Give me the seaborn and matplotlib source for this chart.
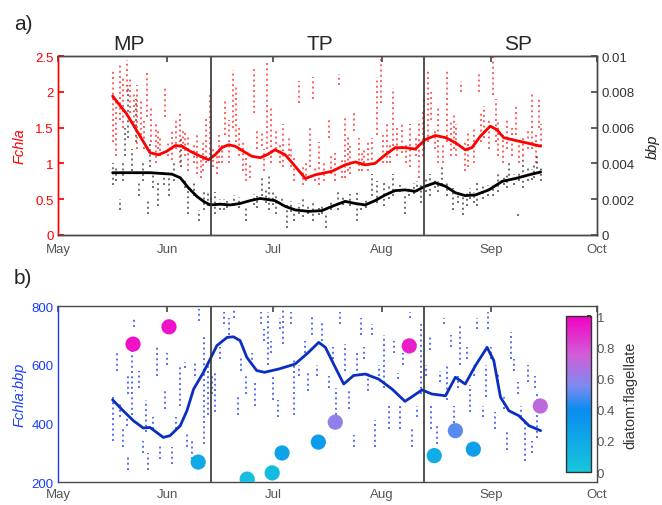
import numpy as np
import matplotlib
matplotlib.use("Agg")
import matplotlib.pyplot as plt
import seaborn as sns
from matplotlib.colors import LinearSegmentedColormap, Normalize
from matplotlib.cm import ScalarMappable

# ---------------- data (day = days since 1 May) ----------------
month_days = [0, 31, 61, 92, 123, 153]
month_labels = ["May", "Jun", "Jul", "Aug", "Sep", "Oct"]
period_bounds = [43.5, 104.0]
period_labels = ["MP", "TP", "SP"]

# Fchla profile strips (day, low, high)
fchla_day = [15.5, 16.5, 17.6, 18.5, 19.5, 20.5, 22.4, 23.5, 25.2, 26.5, 27.8, 29.0, 30.4, 32.3, 33.5,
             34.7, 36.0, 37.0, 38.5, 39.4, 40.5, 42.0, 43.2, 44.0, 45.1, 46.5, 47.4, 48.5, 49.8, 50.5,
             51.5, 53.4, 54.5, 55.5, 56.5, 57.9, 59.3, 62.0, 64.0, 65.5, 67.0, 68.3, 69.5, 71.5, 72.5,
             74.0, 75.5, 76.8, 78.5, 79.8, 81.5, 83.0, 84.0, 85.5, 87.0, 89.0, 90.5, 91.7, 93.5, 95.0,
             97.6, 100.0, 103.5, 105.0, 106.0, 108.0, 110.5, 111.5, 113.0, 114.5, 116.5, 119.5, 121.0,
             123.5, 125.0, 127.5, 130.0, 132.0, 134.5, 137.0,
             21.5, 24.3, 28.5, 31.2, 35.5, 41.2, 45.8, 52.5, 58.5, 60.5, 63.0, 66.2, 70.5, 73.0, 77.5,
             80.5, 82.3, 86.2, 88.0, 92.3, 94.2, 96.3, 98.8, 101.5, 102.5, 104.0, 107.0, 109.3, 112.3,
             115.5, 118.0, 120.2, 122.3, 124.2, 126.3, 128.8, 131.0, 133.3, 135.8, 136.5]
fchla_lo = [1.30, 1.10, 1.60, 1.50, 2.00, 1.70, 1.20, 1.40, 1.65, 1.30, 1.00, 1.10, 1.65, 1.05, 1.20,
            1.00, 1.10, 0.90, 1.00, 0.85, 0.80, 1.00, 1.05, 0.95, 0.85, 1.00, 1.40, 1.00, 1.50, 1.30,
            1.10, 0.75, 0.80, 1.70, 1.20, 1.25, 1.20, 1.20, 0.95, 1.10, 0.75, 1.85, 0.70, 0.95, 1.90,
            0.70, 0.75, 1.35, 0.75, 2.10, 0.80, 0.85, 1.45, 0.90, 1.00, 0.98, 1.40, 1.85, 1.00, 1.25,
            1.15, 0.95, 1.10, 1.30, 1.60, 1.00, 1.30, 1.10, 1.10, 2.00, 0.95, 2.00, 1.35,
            1.95, 1.10, 1.20, 1.40, 1.10, 1.20, 1.25,
            1.50, 1.20, 1.20, 1.10, 1.20, 0.90, 1.00, 0.90, 0.90, 1.00, 1.00, 0.95, 0.75, 0.75, 0.85,
            0.80, 0.90, 0.90, 0.90, 1.00, 1.00, 1.10, 1.00, 1.10, 0.80, 1.20, 1.20, 1.00, 1.20,
            0.90, 1.00, 1.30, 1.20, 1.30, 1.00, 1.10, 1.00, 1.20, 1.00, 1.50]
fchla_hi = [2.30, 1.90, 2.40, 2.20, 2.45, 2.20, 2.10, 1.90, 2.30, 1.80, 1.55, 1.40, 2.05, 1.45, 1.60,
            1.70, 1.45, 1.40, 1.30, 1.40, 1.10, 1.65, 1.95, 1.20, 1.15, 1.30, 1.90, 1.60, 2.30, 2.10,
            1.50, 1.10, 1.00, 2.35, 1.50, 1.45, 2.40, 1.45, 1.55, 1.40, 1.10, 2.15, 0.98, 1.50, 2.20,
            1.30, 1.05, 1.60, 1.15, 2.25, 1.65, 1.25, 1.70, 1.35, 1.20, 1.35, 2.20, 2.50, 1.55, 2.05,
            1.55, 1.55, 1.75, 2.30, 2.00, 1.80, 2.30, 1.60, 1.55, 2.15, 1.45, 2.25, 1.80,
            2.50, 1.60, 1.60, 1.80, 1.40, 2.00, 1.55,
            2.00, 1.60, 1.50, 1.30, 1.50, 1.30, 1.40, 1.30, 1.20, 1.80, 1.30, 1.25, 1.00, 0.95, 1.10,
            1.05, 1.40, 1.15, 1.30, 1.40, 1.30, 1.50, 1.30, 1.40, 1.60, 1.90, 1.50, 1.30, 1.70,
            1.30, 1.50, 1.70, 1.60, 1.90, 1.40, 1.50, 1.30, 1.50, 1.40, 1.90]

# bbp profile strips (day, low, high)
bbp_day = [15.5, 17.5, 20.0, 22.0, 23.0, 25.5, 26.0, 28.5, 31.5, 35.0, 37.0, 40.0, 41.5, 43.5, 44.5,
           47.0, 48.0, 50.0, 53.5, 55.5, 58.0, 60.0, 62.0, 63.5, 65.0, 67.0, 69.5, 71.0, 72.5, 74.0,
           76.0, 79.5, 81.0, 85.0, 87.5, 89.0, 92.5, 95.0, 97.0, 98.5, 101.0, 103.0, 105.5, 107.0,
           109.0, 112.0, 115.0, 117.0, 119.0, 122.0, 125.0, 126.5, 128.0, 130.5, 132.0, 134.5, 136.0,
           16.5, 18.5, 19.0, 21.0, 24.0, 27.0, 30.0, 33.0, 36.0, 38.5, 42.5, 46.0, 51.5, 56.5, 59.0,
           61.0, 66.0, 68.5, 75.0, 77.5, 83.0, 86.0, 90.5, 94.0, 99.5, 102.0, 104.5, 108.0, 110.5,
           113.5, 116.0, 118.0, 120.5, 123.5, 127.5, 129.5, 131.0, 133.5, 135.0, 137.0]
bbp_lo = [0.0028, 0.0014, 0.0054, 0.0052, 0.0022, 0.0012, 0.0038, 0.0016, 0.0022, 0.0038, 0.0012,
          0.0008, 0.0014, 0.0017, 0.0012, 0.0014, 0.0015, 0.0016, 0.0008, 0.0017, 0.0022, 0.0014,
          0.0012, 0.0016, 0.0004, 0.0008, 0.0010, 0.0012, 0.0008, 0.0011, 0.0004, 0.0014, 0.0017,
          0.0008, 0.0015, 0.0022, 0.0016, 0.0022, 0.0024, 0.0012, 0.0023, 0.0018, 0.0022, 0.0026,
          0.0028, 0.0014, 0.0011, 0.0020, 0.0016, 0.0022, 0.0024, 0.0028, 0.0030, 0.00104, 0.0026,
          0.0031, 0.0034,
          0.0030, 0.0030, 0.0044, 0.0036, 0.0030, 0.0026, 0.0028, 0.0030, 0.0026, 0.0022, 0.0016,
          0.0014, 0.0015, 0.0015, 0.0018, 0.0017, 0.0013, 0.0012, 0.0012, 0.0014, 0.0016, 0.0014,
          0.0018, 0.0020, 0.0022, 0.0024, 0.0024, 0.0024, 0.0022, 0.0018, 0.0016, 0.0018, 0.0020,
          0.0022, 0.0026, 0.0028, 0.0030, 0.0030, 0.0032, 0.0030]
bbp_hi = [0.0040, 0.0020, 0.0084, 0.0076, 0.0030, 0.0020, 0.0052, 0.0030, 0.0034, 0.0054, 0.0026,
          0.0014, 0.0024, 0.0022, 0.0024, 0.0020, 0.0019, 0.00224, 0.0016, 0.0023, 0.0032, 0.0034,
          0.0022, 0.0021, 0.0018, 0.0016, 0.0020, 0.0016, 0.0018, 0.0015, 0.0012, 0.0024, 0.0021,
          0.0024, 0.0020, 0.0034, 0.0030, 0.0034, 0.0028, 0.0022, 0.0029, 0.0028, 0.0034, 0.0032,
          0.0039, 0.0026, 0.0022, 0.0026, 0.0030, 0.0028, 0.0036, 0.0033, 0.0042, 0.0012, 0.0044,
          0.0037, 0.0046,
          0.0038, 0.0040, 0.0060, 0.0048, 0.0040, 0.0034, 0.0036, 0.0040, 0.0032, 0.0030, 0.0024,
          0.0020, 0.0021, 0.0022, 0.0026, 0.0025, 0.0019, 0.0018, 0.0016, 0.0019, 0.0023, 0.0018,
          0.0030, 0.0028, 0.0027, 0.0030, 0.0032, 0.0030, 0.0030, 0.0024, 0.0024, 0.0024, 0.0028,
          0.0028, 0.0034, 0.0034, 0.0036, 0.0038, 0.0040, 0.0038]

# smoothed Fchla
fchla_s_day = [15.5, 19.5, 23.3, 26.1, 28.5, 30.9, 33.3, 35.2, 37.5, 40.4, 42.7, 44.6, 46.5, 48.4,
               50.3, 52.6, 55.0, 57.4, 59.3, 61.6, 64.5, 67.3, 70.2, 73.0, 77.8, 81.5, 84.4, 87.2,
               90.0, 92.9, 95.7, 98.5, 101.4, 104.2, 107.1, 110.0, 112.8, 115.6, 117.5, 119.9, 122.7,
               124.6, 126.5, 129.9, 132.7, 137.0]
fchla_s = [1.94, 1.69, 1.38, 1.15, 1.12, 1.17, 1.25, 1.24, 1.17, 1.10, 1.05, 1.12, 1.22, 1.26,
           1.24, 1.17, 1.10, 1.08, 1.12, 1.19, 1.12, 0.96, 0.79, 0.84, 0.89, 0.98, 1.02, 0.98,
           1.00, 1.12, 1.22, 1.22, 1.20, 1.33, 1.39, 1.36, 1.29, 1.19, 1.22, 1.38, 1.52,
           1.47, 1.36, 1.32, 1.29, 1.24]

# smoothed bbp
bbp_s_day = [15.5, 21.4, 26.1, 32.3, 34.7, 37.0, 39.4, 41.3, 43.2, 46.1, 48.9, 51.7, 54.5, 57.4,
             61.6, 64.5, 67.3, 71.1, 74.9, 77.8, 81.5, 84.4, 87.2, 90.0, 92.9, 95.7, 98.5, 101.4,
             104.2, 107.1, 110.0, 112.8, 115.6, 118.5, 122.3, 126.1, 129.9, 133.7, 137.0]
bbp_s = [0.00348, 0.00348, 0.00348, 0.00340, 0.00320, 0.00264, 0.00216, 0.00188, 0.00168, 0.00172,
         0.00168, 0.00176, 0.00192, 0.00204, 0.00192, 0.00160, 0.00140, 0.00132, 0.00136, 0.00160,
         0.00188, 0.00176, 0.00168, 0.00192, 0.00224, 0.00248, 0.00252, 0.00244, 0.00272, 0.00292,
         0.00272, 0.00236, 0.00220, 0.00224, 0.00252, 0.00300, 0.00316, 0.00336, 0.00352]

# Fchla:bbp profile strips (day, low, high)
ratio_day = [15.5, 16.7, 18.5, 19.5, 19.8, 21.0, 21.5, 25.0, 25.5, 28.0, 30.5, 32.5, 34.5, 36.0, 36.5,
             40.0, 41.5, 42.5, 44.5, 47.0, 48.5, 51.0, 52.0, 56.0, 57.5, 59.5, 61.0, 62.5, 64.0, 67.0,
             71.0, 72.0, 75.0, 79.0, 80.0, 81.5, 82.5, 84.0, 86.0, 88.0, 90.0, 92.5, 94.0, 96.5, 97.0,
             100.0, 100.5, 103.0, 105.5, 106.0, 107.5, 109.5, 110.5, 112.5, 114.0, 117.0, 119.0, 121.5,
             122.0, 124.0, 125.0, 127.5, 128.5, 130.5, 132.5, 133.5, 136.0,
             17.5, 20.0, 23.0, 24.0, 27.0, 29.0, 31.0, 33.5, 38.0, 39.0, 43.8, 46.0, 50.0, 53.5, 55.0,
             58.5, 60.5, 63.0, 66.0, 68.5, 70.0, 73.5, 77.0, 78.0, 85.0, 87.0, 89.0, 91.0, 95.5, 98.0,
             102.0, 104.5, 108.5, 111.5, 113.5, 116.0, 118.0, 120.5, 123.0, 126.5, 129.5, 131.5, 134.5,
             135.5]
ratio_lo = [340, 580, 320, 390, 240, 430, 730, 370, 240, 560, 450, 260, 460, 590, 320,
            750, 330, 430, 440, 740, 700, 430, 580, 460, 740, 600, 480, 420, 670, 430,
            510, 700, 680, 430, 740, 580, 450, 320, 700, 510, 320, 520, 380, 550, 380,
            760, 320, 500, 650, 380, 330, 740, 480, 400, 600, 440, 720, 490,
            720, 380, 540, 310, 620, 500, 270, 540, 350,
            420, 500, 520, 300, 380, 280, 600, 380, 280, 560, 500, 620, 760, 500, 600,
            680, 640, 720, 740, 560, 640, 560, 520, 620, 560, 620, 700, 560, 640, 600,
            420, 560, 540, 660, 520, 620, 560, 420, 620, 450, 580, 420, 300,
            520]
ratio_hi = [500, 640, 380, 430, 290, 650, 760, 480, 300, 660, 510, 320, 600, 610, 370,
            790, 700, 600, 580, 780, 760, 500, 630, 540, 780, 780, 560, 480, 790, 620,
            570, 770, 750, 520, 780, 670, 520, 360, 760, 570, 410, 700, 460, 570, 470,
            780, 380, 740, 700, 470, 400, 760, 600, 460, 740, 530, 760, 600,
            780, 440, 570, 380, 710, 540, 400, 600, 500,
            470, 560, 580, 340, 420, 330, 640, 420, 340, 610, 560, 660, 790, 560, 640,
            720, 680, 760, 780, 600, 680, 600, 560, 660, 640, 660, 740, 600, 680, 640,
            460, 600, 580, 700, 560, 660, 600, 460, 660, 490, 620, 460, 340,
            560]

# smoothed Fchla:bbp
ratio_s_day = [15.5, 18.5, 21.4, 24.2, 26.1, 28.0, 29.9, 31.8, 34.7, 36.6, 38.5, 41.3, 43.2, 45.1,
               48.0, 49.8, 51.7, 53.6, 56.4, 58.6, 62.6, 67.3, 71.1, 74.0, 75.9, 78.7, 81.1, 83.9,
               87.2, 91.0, 94.8, 98.5, 100.9, 103.3, 106.1, 110.0, 112.8, 115.6, 118.5, 121.8, 123.7,
               125.6, 128.0, 130.8, 133.7, 137.0]
ratio_s = [480, 443, 409, 384, 386, 369, 352, 358, 392, 443, 517, 574, 619, 665,
           693, 695, 682, 625, 580, 574, 585, 602, 642, 676, 659, 591, 534, 563,
           568, 551, 517, 475, 494, 514, 500, 494, 557, 534, 597, 659, 614,
           489, 443, 426, 392, 375]

# community composition samples
comm_day = [21.3, 31.5, 39.8, 53.7, 60.8, 63.6, 73.9, 78.7, 99.7, 106.8, 112.8, 117.9, 136.9]
comm_val = [670, 729, 268, 210, 231, 299, 336, 404, 664, 290, 375, 312, 459]
comm_ratio = [0.95, 0.95, 0.20, 0.05, 0.08, 0.25, 0.30, 0.60, 0.92, 0.18, 0.50, 0.28, 0.70]

# ---------------- style ----------------
sns.set_theme(style="white")
plt.rcParams["font.family"] = ["Liberation Sans", "DejaVu Sans"]
plt.rcParams["axes.linewidth"] = 1.0

W, H = 662, 506
fig = plt.figure(figsize=(W / 100, H / 100), dpi=100)

def fx(px):
    return px / W

def fy(py):
    return 1 - py / H

RED = "#ff1a1a"
BLUE = "#1a3cff"
DBLUE = "#0a2fc0"
GRAY = "#4a4a4a"
cmap = LinearSegmentedColormap.from_list(
    "df", [(0.0, "#16c6dc"), (0.4, "#0a8cf0"), (0.55, "#7c8af0"), (0.75, "#d05ed8"), (1.0, "#f400c4")])

dots = dict(linestyles=(0, (1.0, 1.7)), linewidth=1.4)

# ---------------- panel a ----------------
ax1 = fig.add_axes([fx(58), fy(236), fx(597 - 58), (236 - 57) / H])
ax1.vlines(fchla_day, fchla_lo, fchla_hi, colors=RED, alpha=0.7, **dots)
ax1.set_xlim(0, 153)
ax1.set_ylim(0, 2.5)
ax2 = ax1.twinx()
ax2.vlines(bbp_day, bbp_lo, bbp_hi, colors="#202020", alpha=0.65, **dots)
sns.lineplot(x=bbp_s_day, y=bbp_s, ax=ax2, color="black", linewidth=2.0)
sns.lineplot(x=fchla_s_day, y=[v * 0.004 for v in fchla_s], ax=ax2, color="red", linewidth=2.0)
ax2.set_ylim(0, 0.01)
ax2.set_xlim(0, 153)

ax1.set_yticks([0, 0.5, 1, 1.5, 2, 2.5])
ax1.set_yticklabels(["0", "0.5", "1", "1.5", "2", "2.5"])
ax2.set_yticks([0, 0.002, 0.004, 0.006, 0.008, 0.01])
ax2.set_yticklabels(["0", "0.002", "0.004", "0.006", "0.008", "0.01"])
ax1.tick_params(axis="y", colors="red", direction="in", length=4, labelsize=9.5, pad=3)
ax2.tick_params(axis="y", colors=GRAY, labelcolor="#333333", direction="in", length=4, labelsize=9.5, pad=3)
ax1.set_ylabel("Fchla", color="red", style="italic", fontsize=10.5, labelpad=6)
ax2.set_ylabel("bbp", color="#222222", style="italic", fontsize=10.5, labelpad=8)

ax1.set_xticks(month_days)
ax1.set_xticklabels(month_labels)
ax1.tick_params(axis="x", direction="in", top=True, length=4, colors=GRAY,
                labelcolor="#555555", labelsize=9.5, pad=6)
for s in ["top", "right", "bottom"]:
    ax2.spines[s].set_color(GRAY)
ax2.spines["left"].set_color("red")
ax1.spines["left"].set_color("red")
for b in period_bounds:
    ax2.axvline(b, color="#333333", linewidth=1.2)

# ---------------- panel b ----------------
ax3 = fig.add_axes([fx(58), fy(483), fx(597 - 58), (483 - 307) / H])
ax3.vlines(ratio_day, ratio_lo, ratio_hi, colors=BLUE, alpha=0.75, **dots)
sns.lineplot(x=ratio_s_day, y=ratio_s, ax=ax3, color=DBLUE, linewidth=2.0)
sns.scatterplot(x=comm_day, y=comm_val, hue=comm_ratio, palette=cmap, hue_norm=(0, 1),
                s=120, edgecolor="none", legend=False, ax=ax3, zorder=5)
for b in period_bounds:
    ax3.axvline(b, color="#333333", linewidth=1.2)
ax3.set_xlim(0, 153)
ax3.set_ylim(200, 800)
ax3.set_yticks([200, 400, 600, 800])
ax3.set_yticklabels(["200", "400", "600", "800"])
ax3.set_xticks(month_days)
ax3.set_xticklabels(month_labels)
ax3.tick_params(axis="x", direction="in", top=True, length=4, colors=GRAY,
                labelcolor="#555555", labelsize=9.5, pad=4)
ax3.tick_params(axis="y", colors=BLUE, direction="in", length=4, labelsize=9.5, pad=3)
ax3.set_ylabel("Fchla:bbp", color=BLUE, style="italic", fontsize=10.5, labelpad=4)
for s in ["top", "right", "bottom"]:
    ax3.spines[s].set_color(GRAY)
ax3.spines["left"].set_color(BLUE)

# colorbar
cax = fig.add_axes([fx(566), fy(473), fx(591 - 566), (473 - 317) / H])
cb = fig.colorbar(ScalarMappable(norm=Normalize(0, 1), cmap=cmap), cax=cax)
cb.set_ticks([0, 0.2, 0.4, 0.6, 0.8, 1])
cb.set_ticklabels(["0", "0.2", "0.4", "0.6", "0.8", "1"])
cax.tick_params(direction="in", length=3, labelsize=9.5, labelcolor="#555555", pad=4)
cb.outline.set_edgecolor("#333333")
cb.set_label("diatom:flagellate", fontsize=10.5, color="#333333", labelpad=6)

# panel letters and period labels
fig.text(fx(14), fy(25), "a)", fontsize=15, va="center", ha="left")
fig.text(fx(14), fy(279), "b)", fontsize=15, va="center", ha="left")
for lab, xp in zip(period_labels, [129, 320, 518]):
    fig.text(fx(xp), fy(45), lab, fontsize=15, va="center", ha="center")

fig.savefig("out.png", dpi=100)
